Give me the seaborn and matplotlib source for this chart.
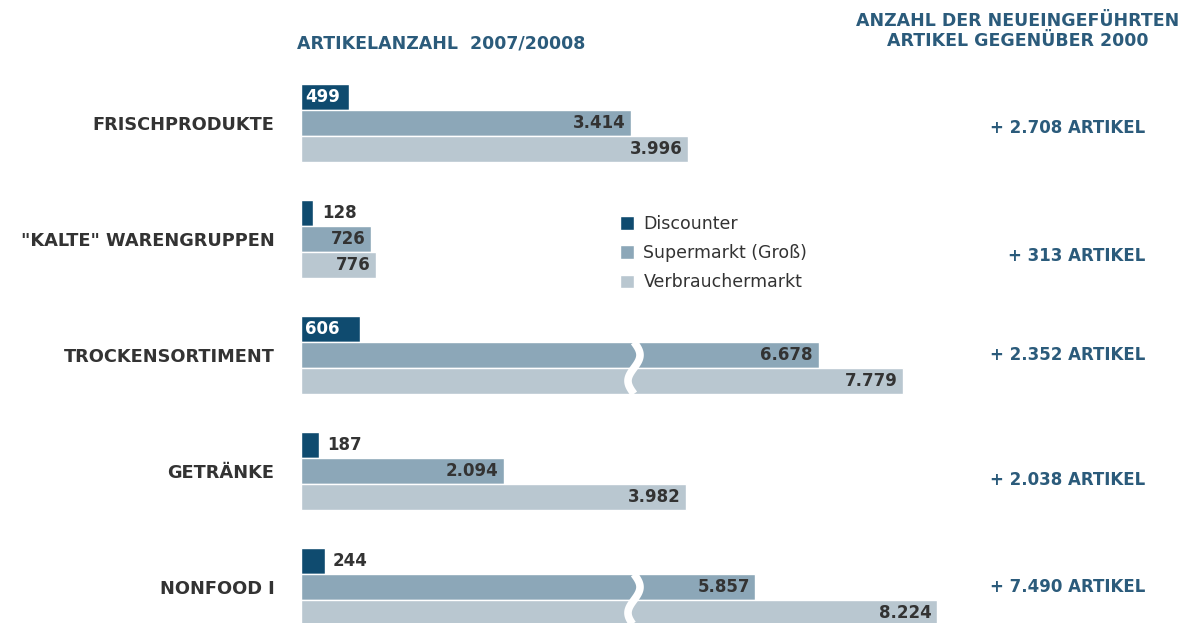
import numpy as np
import pandas as pd
import seaborn as sns
import matplotlib.pyplot as plt
from matplotlib import transforms

kategorien = ['FRISCHPRODUKTE', '"KALTE" WARENGRUPPEN', 'TROCKENSORTIMENT', 'GETRÄNKE', 'NONFOOD I']
discounter = [499, 128, 606, 187, 244]
supermarkt = [3414, 726, 6678, 2094, 5857]
verbrauchermarkt = [3996, 776, 7779, 3982, 8224]
neu_seit_2000 = [2708, 313, 2352, 2038, 7490]
typen = ['Discounter', 'Supermarkt (Groß)', 'Verbrauchermarkt']

farben = ['#0f4b6f', '#8ca7b8', '#b9c7d0']
blau_text = '#2b5b7b'
grau_text = '#333333'

# broken axis: linear up to B1, squeezed between B1 and G, compressed after G
B1, G, EPS, K = 4000, 5010, 0.02, 0.795
U0 = B1 + (G - B1) * EPS
BRUCH_POS = 3440   # where the break mark is drawn on the long bars


def fwd(v):
    v = np.asarray(v, dtype=float)
    return np.where(v <= B1, v, np.where(v <= G, B1 + (v - B1) * EPS, U0 + (v - G) * K))


def inv(u):
    u = np.asarray(u, dtype=float)
    return np.where(u <= B1, u, np.where(u <= U0, B1 + (u - B1) / EPS, G + (u - U0) / K))


def fmt(v):
    return f"{v:,}".replace(',', '.')


df = pd.DataFrame({
    'kategorie': kategorien * 3,
    'anzahl': discounter + supermarkt + verbrauchermarkt,
    'typ': [t for t in typen for _ in kategorien],
})

sns.set_style('white')
plt.rcParams['font.family'] = ['DejaVu Sans']

fig = plt.figure(figsize=(11.99, 6.23), dpi=100)
ax = fig.add_axes([301 / 1199, 0, 898 / 1199, 1])

sns.barplot(data=df, y='kategorie', x='anzahl', hue='typ', hue_order=typen,
            palette=farben, saturation=1, width=0.67, orient='y', ax=ax)

ax.set_xscale('function', functions=(fwd, inv))
ax.set_xlim(0, float(inv(898 / 0.0968)))
ax.set_ylim(4.31, -1.06)
ax.set_xticks([])
ax.set_xlabel('')
ax.set_ylabel('')
for s in ax.spines.values():
    s.set_visible(False)
ax.tick_params(axis='y', length=0, pad=19)
for lab in ax.get_yticklabels():
    lab.set_fontweight('bold')
    lab.set_fontsize(12.8)
    lab.set_color(grau_text)

# value labels
for i, cont in enumerate(ax.containers):
    for bar in cont:
        w = bar.get_width()
        yc = bar.get_y() + bar.get_height() / 2
        if i == 0:
            if w > 400:
                ax.annotate(fmt(int(w)), (0, yc), xytext=(3, 0), textcoords='offset points',
                            ha='left', va='center', color='white', fontsize=12, fontweight='bold')
            else:
                ax.annotate(fmt(int(w)), (w, yc), xytext=(6, 0), textcoords='offset points',
                            ha='left', va='center', color=grau_text, fontsize=12, fontweight='bold')
        else:
            ax.annotate(fmt(int(w)), (w, yc), xytext=(-4, 0), textcoords='offset points',
                        ha='right', va='center', color=grau_text, fontsize=12, fontweight='bold')

# break marks
bbox = ax.get_window_extent()
xb_disp = ax.transData.transform((BRUCH_POS, 0))[0]
xb_ax = (xb_disp - bbox.x0) / bbox.width
px = 1 / bbox.width
trans = transforms.blended_transform_factory(ax.transAxes, ax.transData)
for j in range(len(kategorien)):
    if max(supermarkt[j], verbrauchermarkt[j]) > G:
        sb = ax.containers[1][j]
        vb = ax.containers[2][j]
        y0 = sb.get_y()
        y1 = vb.get_y() + vb.get_height()
        t = np.linspace(0, 1, 80)
        ax.plot(xb_ax + 6 * px * np.sin(2 * np.pi * t), y0 + (y1 - y0) * t,
                color='white', lw=5.5, transform=trans, solid_capstyle='butt', zorder=5)

# right column
y_off = [0.04, 0.15, 0.0, 0.08, 0.0]
rtrans = transforms.blended_transform_factory(fig.transFigure, ax.transData)
for j, n in enumerate(neu_seit_2000):
    ax.text(1145 / 1199, j + y_off[j], f"+ {fmt(n)} ARTIKEL", transform=rtrans,
            ha='right', va='center', color=blau_text, fontsize=12, fontweight='bold')

fig.text(297 / 1199, 1 - 44 / 623, 'ARTIKELANZAHL  2007/20008', ha='left', va='center',
         color=blau_text, fontsize=12.5, fontweight='bold')
fig.text(1018 / 1199, 1 - 31 / 623, 'ANZAHL DER NEUEINGEFÜHRTEN\nARTIKEL GEGENÜBER 2000',
         ha='center', va='center', ma='center', color=blau_text, fontsize=12.5,
         fontweight='bold', linespacing=1.1)

sns.move_legend(ax, 'upper left', bbox_to_anchor=(620 / 1199, 1 - 215 / 623),
                bbox_transform=fig.transFigure, frameon=False, title=None,
                fontsize=12.5, handlelength=0.8, handleheight=0.8,
                handletextpad=0.55, labelspacing=0.64, borderpad=0, borderaxespad=0,
                labelcolor=grau_text)

fig.savefig('out.png', dpi=100)
